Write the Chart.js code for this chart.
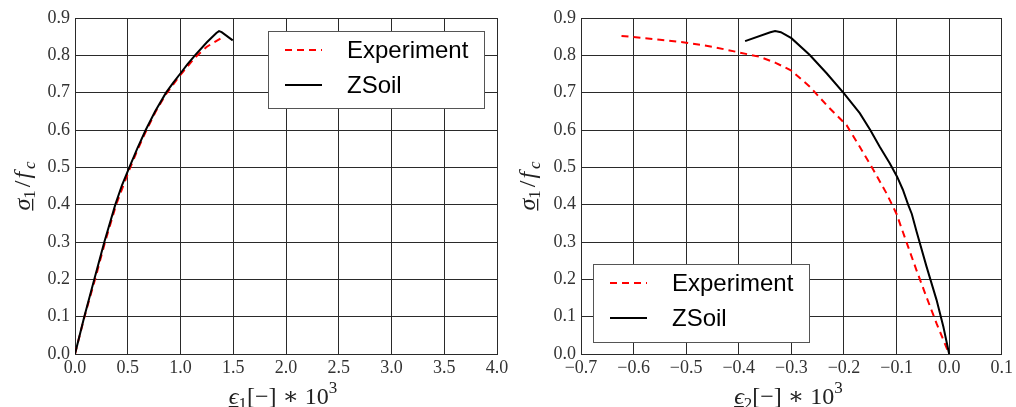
<!DOCTYPE html>
<html>
<head>
<meta charset="utf-8">
<script src="https://cdn.jsdelivr.net/npm/chart.js@4"></script>
<style>
body { margin: 0; background: #fff; }
#wrap { position: relative; width: 1016px; height: 407px; overflow: hidden; }
canvas { position: absolute; top: 0; }
#left { left: 0; }
#right { left: 508px; }
</style>
</head>
<body>
<div id="wrap">
  <canvas id="left" width="520" height="407"></canvas>
  <canvas id="right" width="508" height="407"></canvas>
</div>
<script>
// sigma_1/f_c against eps_1 (x 1e3)
var eps1_exp = [0, 0.09, 0.19, 0.285, 0.39, 0.45, 0.51, 0.59, 0.67, 0.76, 0.86, 1.0, 1.14, 1.25, 1.384];
var sig1_exp = [0, 0.1, 0.2, 0.3, 0.4, 0.445, 0.49, 0.545, 0.595, 0.647, 0.695, 0.748, 0.795, 0.823, 0.846];
var eps1_zsoil = [0, 0.088, 0.183, 0.278, 0.382, 0.445, 0.515, 0.59, 0.67, 0.76, 0.863, 0.93, 0.995, 1.065, 1.137, 1.25, 1.34, 1.365, 1.39, 1.495];
var sig1_zsoil = [0, 0.1, 0.2, 0.3, 0.4, 0.452, 0.5, 0.55, 0.6, 0.65, 0.7, 0.726, 0.75, 0.776, 0.8, 0.835, 0.86, 0.865, 0.862, 0.84];

// sigma_1/f_c against eps_2 (x 1e3)
var eps2_exp = [-0.623, -0.55, -0.5, -0.45, -0.4, -0.36, -0.33, -0.3, -0.265, -0.23, -0.195, -0.17, -0.144, -0.119, -0.1, -0.081, -0.062, -0.043, -0.024, 0];
var sig2_exp = [0.852, 0.842, 0.834, 0.823, 0.808, 0.796, 0.78, 0.759, 0.716, 0.662, 0.613, 0.555, 0.493, 0.43, 0.375, 0.299, 0.224, 0.152, 0.082, 0];
var eps2_zsoil = [-0.388, -0.34, -0.331, -0.32, -0.3, -0.265, -0.233, -0.2, -0.17, -0.15, -0.132, -0.113, -0.099, -0.088, -0.078, -0.071, -0.062, -0.043, -0.024, -0.011, 0];
var sig2_zsoil = [0.838, 0.862, 0.865, 0.862, 0.846, 0.801, 0.752, 0.698, 0.645, 0.6, 0.555, 0.511, 0.475, 0.44, 0.4, 0.375, 0.328, 0.234, 0.145, 0.073, 0];

var xTicks1 = [0, 0.5, 1, 1.5, 2, 2.5, 3, 3.5, 4];
var xLabels1 = ['0.0', '0.5', '1.0', '1.5', '2.0', '2.5', '3.0', '3.5', '4.0'];
var xTicks2 = [-0.7, -0.6, -0.5, -0.4, -0.3, -0.2, -0.1, 0, 0.1];
var xLabels2 = ['\u22120.7', '\u22120.6', '\u22120.5', '\u22120.4', '\u22120.3', '\u22120.2', '\u22120.1', '0.0', '0.1'];
var yTicks = [0, 0.1, 0.2, 0.3, 0.4, 0.5, 0.6, 0.7, 0.8, 0.9];
var yLabels = ['0.0', '0.1', '0.2', '0.3', '0.4', '0.5', '0.6', '0.7', '0.8', '0.9'];

var serif = '"Liberation Serif", "DejaVu Serif", serif';
var sans = '"Liberation Sans", Arial, sans-serif';
var gridColor = '#2a2a2a';

function points(xs, ys) {
  return xs.map((x, i) => ({x: x, y: ys[i]}));
}

function runFont(r) {
  var size = (r.sub || r.sup) ? 17 : 24;
  return (r.it ? 'italic ' : '') + size + 'px ' + serif;
}

// draws a row of text runs (italic / sub / sup / underline) centred on cx
function drawMath(ctx, runs, cx, by) {
  var total = 0;
  runs.forEach(r => {
    ctx.font = runFont(r);
    r.w = ctx.measureText(r.t).width + (r.pad || 0);
    total += r.w;
  });
  var x = cx - total / 2;
  ctx.fillStyle = '#222';
  ctx.textAlign = 'left';
  ctx.textBaseline = 'alphabetic';
  runs.forEach(r => {
    ctx.font = runFont(r);
    var dy = r.sub ? 5 : (r.sup ? -11 : 0);
    ctx.fillText(r.t, x + (r.lpad || 0), by + dy);
    if (r.ul) ctx.fillRect(x, by + 2, r.w, 1.3);
    x += r.w;
  });
}

function yTitle() {
  return [
    {t: '\u03c3', it: true, ul: true},
    {t: '1', sub: true, pad: 1},
    {t: '/', pad: 4, lpad: 2},
    {t: 'f', it: true, pad: 3},
    {t: 'c', it: true, sub: true}
  ];
}

function xTitle(n) {
  return [
    {t: '\u03f5', it: true, ul: true},
    {t: n, sub: true},
    {t: '[\u2212] \u2217 10'},
    {t: '3', sup: true}
  ];
}

var extras = {
  id: 'extras',
  afterDraw(chart, args, opts) {
    var ctx = chart.ctx;
    var a = chart.chartArea;
    ctx.save();
    drawMath(ctx, xTitle(opts.sub), (a.left + a.right) / 2 - 3, 404);
    ctx.translate(opts.yTitleX, (a.top + a.bottom) / 2);
    ctx.rotate(-Math.PI / 2);
    drawMath(ctx, yTitle(), 0, 0);
    ctx.restore();

    // legend box
    var b = opts.legendBox;
    ctx.save();
    ctx.fillStyle = '#fff';
    ctx.fillRect(b.x, b.y, b.w, b.h);
    ctx.strokeStyle = '#555';
    ctx.lineWidth = 1;
    ctx.strokeRect(b.x + 0.5, b.y + 0.5, b.w, b.h);
    chart.data.datasets.forEach((ds, i) => {
      var y = b.y + 19 + i * 35;
      ctx.strokeStyle = ds.borderColor;
      ctx.lineWidth = ds.borderWidth;
      ctx.setLineDash(ds.borderDash || []);
      ctx.beginPath();
      ctx.moveTo(b.x + 17, y);
      ctx.lineTo(b.x + 54, y);
      ctx.stroke();
      ctx.setLineDash([]);
      ctx.fillStyle = '#000';
      ctx.font = '24px ' + sans;
      ctx.textBaseline = 'middle';
      ctx.textAlign = 'left';
      ctx.fillText(ds.label, b.x + 79, y + 1);
    });
    ctx.restore();
  }
};

function makeChart(id, xe, ye, xz, yz, xTicks, xLabels, yWidth, padRight, opts) {
  return new Chart(document.getElementById(id), {
    type: 'line',
    data: {
      datasets: [
        {
          label: 'Experiment',
          data: points(xe, ye),
          borderColor: '#ff0000',
          borderWidth: 2,
          borderDash: [7, 5],
          pointRadius: 0,
          order: 1
        },
        {
          label: 'ZSoil',
          data: points(xz, yz),
          borderColor: '#000000',
          borderWidth: 2,
          pointRadius: 0,
          order: 0
        }
      ]
    },
    options: {
      responsive: false,
      animation: false,
      layout: { padding: { top: 18, right: padRight, left: 0, bottom: 0 } },
      plugins: {
        legend: { display: false },
        tooltip: { enabled: false },
        extras: opts
      },
      scales: {
        x: {
          type: 'linear',
          min: xTicks[0],
          max: xTicks[xTicks.length - 1],
          afterBuildTicks: s => { s.ticks = xTicks.map(v => ({value: v})); },
          afterFit: s => { s.height = 53; },
          ticks: {
            callback: (v, i) => xLabels[i],
            autoSkip: false,
            maxRotation: 0,
            padding: 3,
            color: '#333',
            font: { family: serif, size: 18 }
          },
          grid: { color: gridColor, lineWidth: 1, drawTicks: false },
          border: { color: gridColor, width: 1 }
        },
        y: {
          min: 0,
          max: 0.9,
          afterBuildTicks: s => { s.ticks = yTicks.map(v => ({value: v})); },
          afterFit: s => { s.width = yWidth; },
          ticks: {
            callback: (v, i) => yLabels[i],
            padding: 5,
            color: '#333',
            font: { family: serif, size: 18 }
          },
          grid: { color: gridColor, lineWidth: 1, drawTicks: false },
          border: { color: gridColor, width: 1 }
        }
      }
    },
    plugins: [extras]
  });
}

var chart1 = makeChart('left', eps1_exp, sig1_exp, eps1_zsoil, sig1_zsoil, xTicks1, xLabels1, 75, 23,
  { sub: '1', yTitleX: 30, legendBox: { x: 268, y: 31, w: 216, h: 77 } });
var chart2 = makeChart('right', eps2_exp, sig2_exp, eps2_zsoil, sig2_zsoil, xTicks2, xLabels2, 73, 14,
  { sub: '2', yTitleX: 27, legendBox: { x: 85, y: 264, w: 216, h: 78 } });
</script>
</body>
</html>
